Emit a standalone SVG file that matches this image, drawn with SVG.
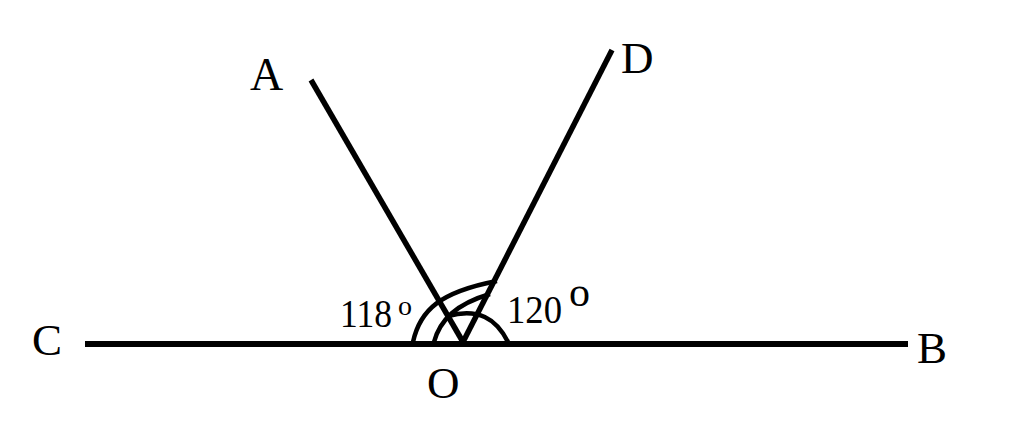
<svg xmlns="http://www.w3.org/2000/svg" width="1024" height="444" viewBox="0 0 1024 444">
<style>
.ln{stroke:#000;stroke-width:5.5;fill:none;stroke-linecap:butt}
.arc{stroke:#000;stroke-width:4.5;fill:none}
.lbl{font-family:"Liberation Serif","Times New Roman",serif;fill:#000}
</style>
<rect width="1024" height="444" fill="#fff"/>
<g id="connectors">
<line class="ln" x1="85" y1="344" x2="908" y2="344" style="stroke-width:6"/>
<line class="ln" x1="311" y1="80" x2="463" y2="342"/>
<line class="ln" x1="612" y1="50" x2="463" y2="342"/>
<path class="arc" d="M413,342 C420,310 440,292 497,281"/>
<path class="arc" d="M434,342 C440,320 456,304 490,294"/>
<path class="arc" d="M508,342 C496,318 478,308 448,316"/>
</g>
<g id="A"><text class="lbl" x="250" y="90" font-size="46">A</text></g>
<g id="D"><text class="lbl" x="621" y="73" font-size="45">D</text></g>
<g id="C"><text class="lbl" x="32" y="355" font-size="45">C</text></g>
<g id="B"><text class="lbl" x="917" y="363" font-size="45">B</text></g>
<g id="O"><text class="lbl" x="427" y="398" font-size="45">O</text></g>
<g id="angle118"><text class="lbl" x="340" y="327" font-size="40" textLength="52" lengthAdjust="spacingAndGlyphs">118</text><text class="lbl" x="398" y="315" font-size="28">o</text></g>
<g id="angle120"><text class="lbl" x="507" y="323" font-size="40" textLength="55" lengthAdjust="spacingAndGlyphs">120</text><text class="lbl" x="569" y="306" font-size="42">o</text></g>
</svg>
